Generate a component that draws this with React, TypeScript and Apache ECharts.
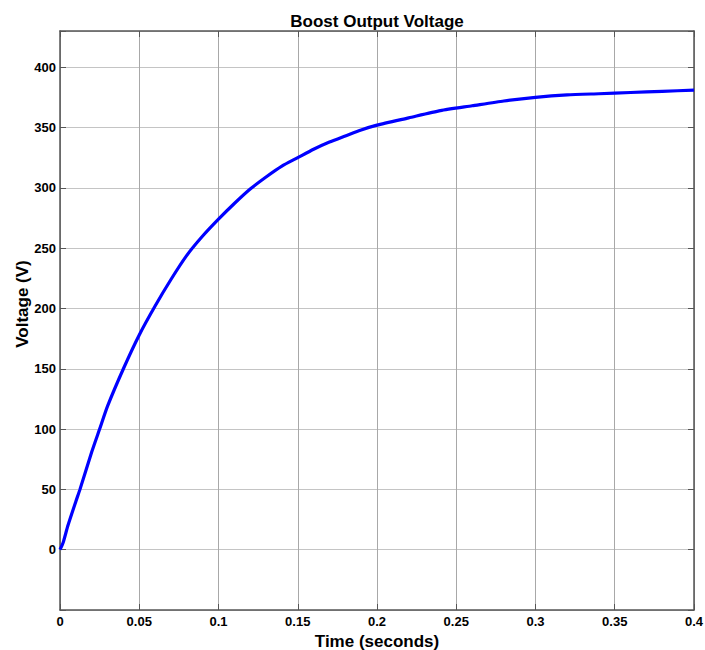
import React, { useEffect, useRef } from "react";
import * as echarts from "echarts";

const times = [0, 0.002, 0.005, 0.01, 0.0126, 0.02, 0.025, 0.03, 0.04, 0.05, 0.06, 0.07, 0.08, 0.09, 0.1, 0.11, 0.12, 0.13, 0.14, 0.15, 0.16, 0.17, 0.18, 0.19, 0.2, 0.22, 0.24, 0.26, 0.28, 0.3, 0.32, 0.34, 0.36, 0.38, 0.4];
const volts = [0, 6, 20, 40, 50, 81, 100, 119, 150, 178, 202, 224, 244, 260, 274, 287, 299, 309, 318, 325, 332, 338, 343, 348, 352, 358, 364, 368, 372, 375, 377, 378, 379, 380, 381];
const yTickLabels = [0, 50, 100, 150, 200, 250, 300, 350, 400];

const FONT = "'Liberation Sans', Arial, sans-serif";

export default function App() {
  const ref = useRef<HTMLDivElement>(null);
  useEffect(() => {
    if (!ref.current) return;
    const chart = echarts.init(ref.current, null, { renderer: "svg" });
    const data = times.map((t, i) => [t, volts[i]]);
    const axisLine = { show: true, onZero: false, lineStyle: { color: "#555", width: 1.5 } };
    const tick = { show: true, inside: true, length: 6, lineStyle: { color: "#555" } };
    chart.setOption({
      animation: false,
      backgroundColor: "#fff",
      grid: { left: 60, right: 11, top: 31, bottom: 40, containLabel: false, outerBoundsMode: "none" },
      xAxis: [
        {
          type: "value",
          min: 0,
          max: 0.4,
          interval: 0.05,
          position: "bottom",
          name: "Time (seconds)",
          nameLocation: "middle",
          nameGap: 16,
          nameTextStyle: { fontFamily: FONT, fontWeight: "bold", fontSize: 17, color: "#000" },
          axisLine,
          axisTick: tick,
          axisLabel: { fontFamily: FONT, fontWeight: "bold", fontSize: 13, color: "#000", margin: 5 },
          splitLine: { show: true, lineStyle: { color: "#a8a8a8", width: 1 } },
        },
        {
          type: "value",
          min: 0,
          max: 0.4,
          interval: 0.05,
          position: "top",
          axisLine,
          axisTick: tick,
          axisLabel: { show: false },
          splitLine: { show: false },
        },
      ],
      yAxis: [
        {
          type: "value",
          min: -50,
          max: 430,
          interval: 50,
          position: "left",
          axisLine,
          axisTick: tick,
          axisLabel: {
            fontFamily: FONT,
            fontWeight: "bold",
            fontSize: 13,
            color: "#000",
            margin: 4,
            formatter: (v: number) => (yTickLabels.indexOf(Math.round(v)) >= 0 && Math.abs(v - Math.round(v)) < 1e-6 ? String(Math.round(v)) : ""),
          },
          splitLine: { show: true, lineStyle: { color: "#c4c4c4", width: 1 } },
        },
        {
          type: "value",
          min: -50,
          max: 430,
          interval: 50,
          position: "right",
          axisLine,
          axisTick: tick,
          axisLabel: { show: false },
          splitLine: { show: false },
        },
      ],
      graphic: [
        {
          type: "text",
          x: 377,
          y: 21,
          style: {
            text: "Boost Output Voltage",
            fontFamily: FONT,
            fontWeight: "bold",
            fontSize: 17,
            fill: "#000",
            textAlign: "center",
            textVerticalAlign: "middle",
          },
        },
        {
          type: "text",
          x: 22,
          y: 304,
          rotation: Math.PI / 2,
          style: {
            text: "Voltage (V)",
            fontFamily: FONT,
            fontWeight: "bold",
            fontSize: 17,
            fill: "#000",
            textAlign: "center",
            textVerticalAlign: "middle",
          },
        },
      ],
      series: [
        {
          type: "line",
          xAxisIndex: 0,
          yAxisIndex: 0,
          data,
          showSymbol: false,
          smooth: 0.2,
          lineStyle: { color: "#0000ff", width: 3.2 },
        },
      ],
    });
    return () => chart.dispose();
  }, []);
  return <div ref={ref} style={{ position: "fixed", left: 0, top: 0, width: 705, height: 650 }} />;
}
